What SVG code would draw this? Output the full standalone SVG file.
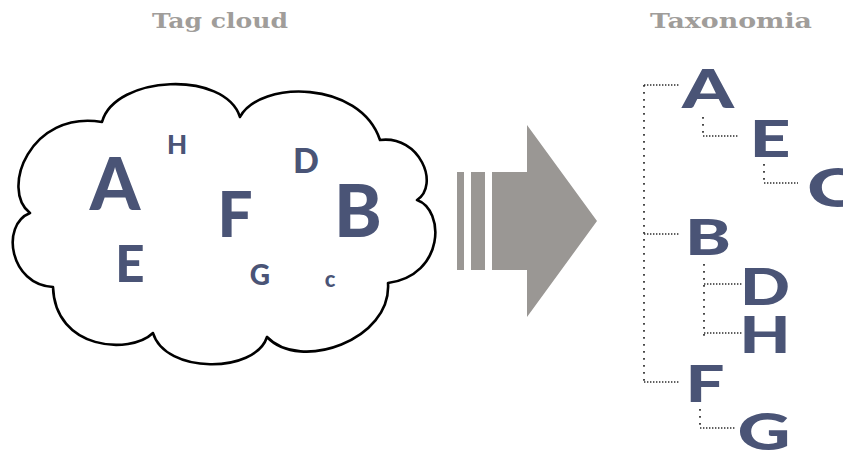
<svg xmlns="http://www.w3.org/2000/svg" width="843" height="450" viewBox="0 0 843 450">
  <style>
    .title { font-family: "DejaVu Serif", "Liberation Serif", serif; font-weight: bold; font-size: 20px; fill: #a09d9a; text-anchor: middle; }
    .tag { font-family: Lato, "Open Sans", "Liberation Sans", sans-serif; font-weight: 900; fill: #4a5476; text-anchor: middle; }
    .cloud { fill: #ffffff; stroke: #000000; stroke-width: 2.6; stroke-linejoin: round; }
    .arrow { fill: #9a9794; }
    .vdot { stroke: #2b2b2b; stroke-width: 1.7; stroke-dasharray: 1.7 5.3; fill: none; }
    .hdot { stroke: #2b2b2b; stroke-width: 1.4; stroke-dasharray: 1.4 1.6; fill: none; }
  </style>

  <!-- headings -->
  <text class="title" x="220" y="28" textLength="136" lengthAdjust="spacingAndGlyphs">Tag cloud</text>
  <text class="title" x="731" y="28" textLength="162" lengthAdjust="spacingAndGlyphs">Taxonomia</text>

  <!-- the cloud of tags -->
  <g id="cloud">
    <path class="cloud" d="M102,122
      C115,75 225,70 240,117
      C260,80 360,80 380,140
      C420,135 440,185 417,200
      C445,210 445,275 388,283
      C392,340 300,372 267,337
      C255,374 165,374 153,333
      C130,355 55,350 53,287
      C10,285 0,225 30,213
      C0,190 30,110 102,122 Z"/>
    <text class="tag" x="115" y="210" font-size="72">A</text>
    <text class="tag" x="177" y="154" font-size="26">H</text>
    <text class="tag" x="306" y="173" font-size="34">D</text>
    <text class="tag" x="235" y="237" font-size="62">F</text>
    <text class="tag" x="358" y="237" font-size="72">B</text>
    <text class="tag" x="130" y="282" font-size="51">E</text>
    <text class="tag" x="260" y="285" font-size="28">G</text>
    <text class="tag" x="330" y="287" font-size="22">c</text>
  </g>

  <!-- transformation arrow -->
  <g id="arrow">
    <rect class="arrow" x="457" y="172" width="7" height="98"/>
    <rect class="arrow" x="471" y="172" width="14" height="98"/>
    <polygon class="arrow" points="492,172 527,172 527,125 597,221 527,317 527,270 492,270"/>
  </g>

  <!-- hierarchy connectors -->
  <g id="connectors">
    <path class="vdot" d="M644,85 V382"/>
    <path class="hdot" d="M644,85 H680 M644,234 H680 M644,382 H680"/>
    <path class="vdot" d="M703,117 V136"/>
    <path class="hdot" d="M703,136 H738"/>
    <path class="vdot" d="M764,164 V183"/>
    <path class="hdot" d="M764,183 H798"/>
    <path class="vdot" d="M704,264 V337"/>
    <path class="hdot" d="M704,284 H742 M704,333 H742"/>
    <path class="vdot" d="M700,409 V428"/>
    <path class="hdot" d="M700,428 H736"/>
  </g>

  <!-- taxonomy nodes (wide lettering) -->
  <g id="node-A"><text class="tag" x="708" y="108" font-size="53" textLength="52" lengthAdjust="spacingAndGlyphs">A</text></g>
  <g id="node-E"><text class="tag" x="770" y="157" font-size="51" textLength="41" lengthAdjust="spacingAndGlyphs">E</text></g>
  <g id="node-C"><text class="tag" x="833" y="207" font-size="54" textLength="52" lengthAdjust="spacingAndGlyphs">C</text></g>
  <g id="node-B"><text class="tag" x="708" y="255" font-size="50" textLength="46" lengthAdjust="spacingAndGlyphs">B</text></g>
  <g id="node-D"><text class="tag" x="765" y="305" font-size="51" textLength="50" lengthAdjust="spacingAndGlyphs">D</text></g>
  <g id="node-H"><text class="tag" x="765" y="353" font-size="51" textLength="51" lengthAdjust="spacingAndGlyphs">H</text></g>
  <g id="node-F"><text class="tag" x="705" y="402" font-size="51" textLength="39" lengthAdjust="spacingAndGlyphs">F</text></g>
  <g id="node-G"><text class="tag" x="764" y="450" font-size="51" textLength="53" lengthAdjust="spacingAndGlyphs">G</text></g>
</svg>
